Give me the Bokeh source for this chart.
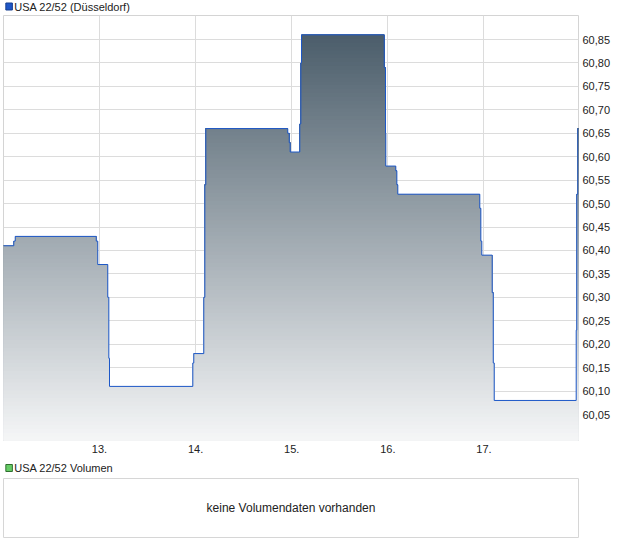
import numpy as np
from bokeh.plotting import figure
from bokeh.layouts import column
from bokeh.models import FixedTicker
from bokeh.core.properties import value
from bokeh.embed import file_html
from bokeh.resources import INLINE

# ---- data (x in days of the month, fractional = time of day on trading axis) ----
times = [12.0, 12.108, 12.123, 12.966, 12.982, 13.086, 13.097, 13.104,
         13.971, 13.981, 14.085, 14.096, 14.106, 14.959, 14.974, 14.984,
         15.084, 15.095, 15.102, 15.963, 15.976, 15.979, 16.083, 16.094,
         16.104, 16.957, 16.968, 16.978, 17.086, 17.097, 17.107, 17.960,
         17.966, 17.977, 17.984]
prices = [60.41, 60.42, 60.43, 60.42, 60.37, 60.30, 60.17, 60.11,
          60.16, 60.18, 60.30, 60.54, 60.66, 60.65, 60.63, 60.61,
          60.67, 60.80, 60.86, 60.79, 60.65, 60.58, 60.57, 60.54,
          60.52, 60.49, 60.42, 60.39, 60.31, 60.16, 60.08, 60.23,
          60.52, 60.66, 60.66]
x_ticks = [13, 14, 15, 16, 17]
x_tick_labels = ["13.", "14.", "15.", "16.", "17."]
y_ticks = [60.05, 60.10, 60.15, 60.20, 60.25, 60.30, 60.35, 60.40, 60.45,
           60.50, 60.55, 60.60, 60.65, 60.70, 60.75, 60.80, 60.85]
y_tick_labels = ["60,05", "60,10", "60,15", "60,20", "60,25", "60,30", "60,35",
                 "60,40", "60,45", "60,50", "60,55", "60,60", "60,65", "60,70",
                 "60,75", "60,80", "60,85"]
price_title = "USA 22/52 (Düsseldorf)"
volume_title = "USA 22/52 Volumen"
no_volume_msg = "keine Volumendaten vorhanden"

FONT = "Liberation Sans"
W = 615
X0, X1 = 12.001, 17.984
Y0, Y1 = 59.9946, 60.9012


def header(title, h, fill, line, cy):
    f = figure(width=W, height=h, x_range=(0, W), y_range=(h, 0),
               x_axis_location=None, y_axis_location=None, output_backend="svg",
               toolbar_location=None, min_border=0, outline_line_color=None,
               background_fill_color="white", border_fill_color="white")
    f.xgrid.visible = False
    f.ygrid.visible = False
    f.quad(left=[2.5], right=[9.5], top=[cy - 3.5], bottom=[cy + 3.5],
           fill_color=fill, line_color=line, line_width=1)
    f.text(x=[11.5], y=[cy], text=[title], text_baseline="middle",
           text_font=value(FONT), text_font_size="11px", text_color="#222222")
    return f


hdr1 = header(price_title, 13, "#1f56c6", "#173f8f", 6)

# step expansion
xs, ys = [], []
for i in range(len(times) - 1):
    xs += [times[i], times[i + 1]]
    ys += [prices[i], prices[i]]
xs = np.array(xs)
ys = np.array(ys)

p = figure(width=W, height=445, x_range=(X0, X1), y_range=(Y0, Y1),
           y_axis_location="right", output_backend="svg", toolbar_location=None,
           min_border_left=3, min_border_right=37, min_border_bottom=18,
           min_border_top=2, outline_line_color="#d4d4d4",
           background_fill_color="white", border_fill_color="white")

# gradient fill under the step line (bands painted top to bottom)
c_top = np.array([0x43, 0x56, 0x64])
c_bot = np.array([0xf5, 0xf6, 0xf7])
N = 110
h = (Y1 - Y0) / N
for i in range(N - 1, -1, -1):
    top_i = Y0 + (i + 1) * h
    t = (i + 0.5) / N
    c = (c_bot + (c_top - c_bot) * t).round().astype(int)
    col = "#%02x%02x%02x" % tuple(c)
    p.varea(x=xs, y1=Y0 - 0.05, y2=np.minimum(ys, top_i), fill_color=col)

p.line(xs, ys, line_color="#1d58c8", line_width=1)

p.xaxis.ticker = FixedTicker(ticks=x_ticks)
p.xaxis.major_label_overrides = dict(zip(x_ticks, x_tick_labels))
p.yaxis.ticker = FixedTicker(ticks=y_ticks)
p.yaxis.major_label_overrides = dict(zip(y_ticks, y_tick_labels))
for ax in (p.xaxis[0], p.yaxis[0]):
    ax.axis_line_color = None
    ax.major_tick_line_color = None
    ax.minor_tick_line_color = None
    ax.major_tick_out = 0
    ax.major_tick_in = 0
    ax.minor_tick_out = 0
    ax.minor_tick_in = 0
    ax.major_label_text_font = FONT
    ax.major_label_text_font_size = "11px"
    ax.major_label_text_color = "#222222"
p.xaxis.major_label_standoff = 4
p.yaxis.major_label_standoff = 4
p.xgrid.grid_line_color = "#dcdcdc"
p.ygrid.grid_line_color = "#dcdcdc"

hdr2 = header(volume_title, 18, "#66cc66", "#2f6f2f", 9.5)

# volume panel
q = figure(width=W, height=62, x_range=(0, 1), y_range=(0, 1),
           x_axis_location=None, y_axis_location=None, output_backend="svg",
           toolbar_location=None, min_border_left=3, min_border_right=37,
           min_border_bottom=1, min_border_top=2, outline_line_color="#d6d6d6",
           background_fill_color="white", border_fill_color="white")
q.xgrid.visible = False
q.ygrid.visible = False
q.text(x=[0.5], y=[0.5], text=[no_volume_msg], text_align="center",
       text_baseline="middle", text_font=value(FONT), text_font_size="12px",
       text_color="#222222")

layout = column(hdr1, p, hdr2, q, spacing=0)
open("out.html", "w").write(file_html(layout, INLINE))
